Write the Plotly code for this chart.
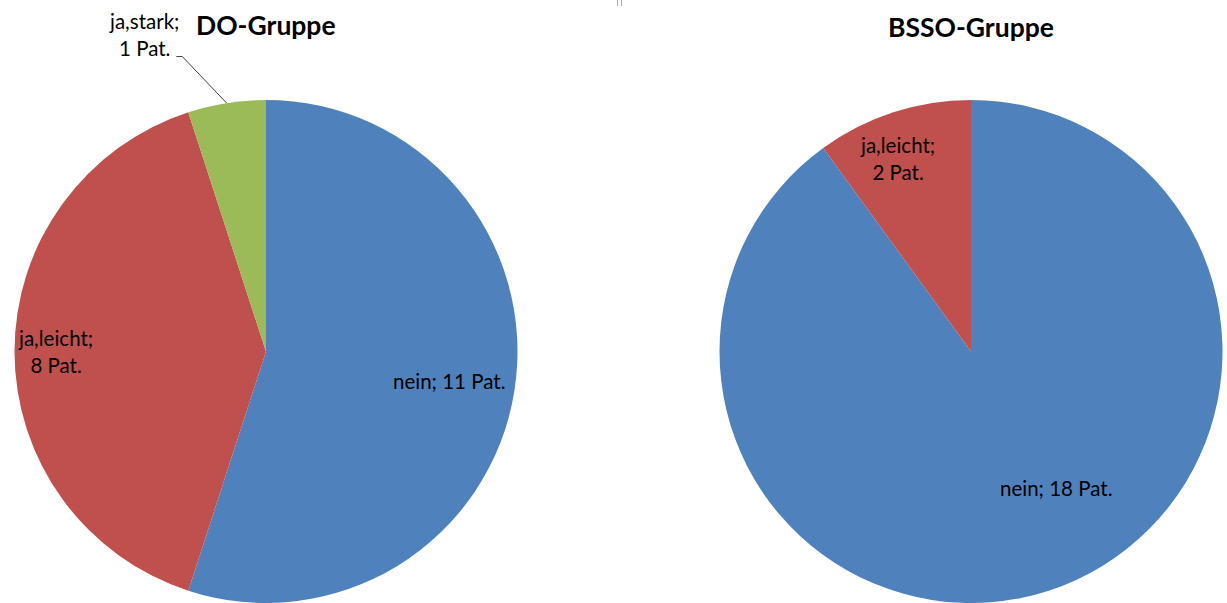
import math
import plotly.graph_objects as go

# Survey answers per group (number of patients)
categories = ["nein", "ja,leicht", "ja,stark"]
group_titles = ["DO-Gruppe", "BSSO-Gruppe"]
do_values = [11, 8, 1]
bsso_values = [18, 2, 0]

colors = ["#4F81BD", "#C0504D", "#9BBB59"]
FONT = "Lato, Calibri, Carlito, sans-serif"

W, H = 1227, 603
R = 251.5                      # pie radius in px
CENTERS = [(266, 351.5), (971, 351.5)]
TITLE_Y = [25, 27]

# label placement per slice: (radius fraction, angle offset in degrees)
placement = [
    [(0.74, 0), (0.835, 0), (1.35, -12)],
    [(0.64, -14), (0.82, -3), (1.0, 0)],
]
outside = [[False, False, True], [False, False, True]]


def px_to_paper(x, y):
    return x / W, 1 - y / H


def label_text(cat, val):
    sep = "; " if cat == "nein" else ";<br>"
    return f"{cat}{sep}{val} Pat."


fig = go.Figure()
annotations = []
shapes = []

for gi, values in enumerate([do_values, bsso_values]):
    cx, cy = CENTERS[gi]
    fig.add_trace(go.Pie(
        labels=categories,
        values=values,
        sort=False,
        direction="clockwise",
        rotation=0,
        marker=dict(colors=colors, line=dict(width=0)),
        textinfo="none",
        hoverinfo="label+value",
        showlegend=False,
        domain=dict(x=[(cx - R) / W, (cx + R) / W],
                    y=[(H - (cy + R)) / H, (H - (cy - R)) / H]),
    ))

    total = sum(values)
    cum = 0
    for si, (cat, val) in enumerate(zip(categories, values)):
        if val == 0:
            continue
        mid = (cum + val / 2) / total * 360
        cum += val
        frac, off = placement[gi][si]
        ang = math.radians(mid + off)
        lx = cx + frac * R * math.sin(ang)
        ly = cy - frac * R * math.cos(ang)
        ax, ay = px_to_paper(lx, ly)
        annotations.append(dict(
            x=ax, y=ay, xref="paper", yref="paper",
            text=label_text(cat, val), showarrow=False,
            font=dict(family=FONT, size=20.5, color="#000000"),
            align="center", xanchor="center", yanchor="middle",
        ))
        if outside[gi][si]:
            # leader line from the label to the slice edge
            ex = cx + R * math.sin(math.radians(mid))
            ey = cy - R * math.cos(math.radians(mid))
            sx0, sy0 = lx + 32, ly + 22
            sx1 = lx + 38
            p = [px_to_paper(sx0, sy0), px_to_paper(sx1, sy0), px_to_paper(ex, ey)]
            shapes.append(dict(
                type="path", xref="paper", yref="paper",
                path=f"M {p[0][0]} {p[0][1]} L {p[1][0]} {p[1][1]} L {p[2][0]} {p[2][1]}",
                line=dict(color="#404040", width=1),
            ))

    tx, ty = px_to_paper(cx, TITLE_Y[gi])
    annotations.append(dict(
        x=tx, y=ty, xref="paper", yref="paper",
        text=f"<b>{group_titles[gi]}</b>", showarrow=False,
        font=dict(family=FONT, size=26.5, color="#000000"),
        xanchor="center", yanchor="middle",
    ))

# small separator ticks at the top centre
for x in (617.5, 621.5):
    x0, y0 = px_to_paper(x, 0)
    x1, y1 = px_to_paper(x, 6)
    shapes.append(dict(type="line", xref="paper", yref="paper",
                       x0=x0, y0=y0, x1=x1, y1=y1,
                       line=dict(color="#b0b0b0", width=1)))

fig.update_layout(
    width=W, height=H,
    margin=dict(l=0, r=0, t=0, b=0),
    paper_bgcolor="white",
    plot_bgcolor="white",
    annotations=annotations,
    shapes=shapes,
)

fig.write_html("out.html")
